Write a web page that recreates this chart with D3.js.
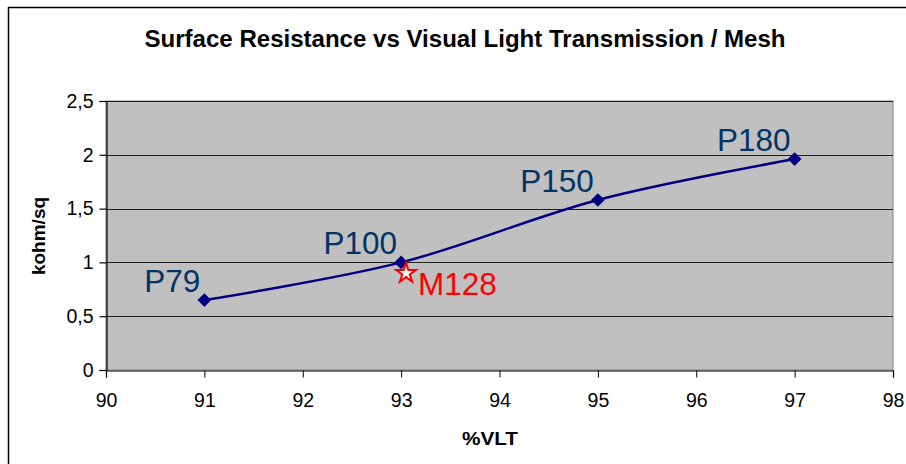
<!DOCTYPE html>
<html><head><meta charset="utf-8">
<script src="https://cdn.jsdelivr.net/npm/d3@7"></script>
<style>body{margin:0;background:#fff}svg{display:block}</style>
</head><body>
<svg id="c" width="906" height="464"></svg>
<script>
const meshNames = ["P79", "P100", "P150", "P180"];
const vltValues = [91, 93, 95, 97];
const resistanceValues = [0.65, 1.0, 1.58, 1.96];
const markName = "M128";
const markVlt = 93.05;
const markResistance = 0.9;
const xTicks = [90, 91, 92, 93, 94, 95, 96, 97, 98];
const yTicks = [0, 0.5, 1, 1.5, 2, 2.5];

const svg = d3.select("#c");
const W = 906, H = 464;
const m = {l: 106, r: 893, t: 101, b: 370};
const x = d3.scaleLinear().domain([90, 98]).range([m.l, m.r]);
const y = d3.scaleLinear().domain([0, 2.5]).range([m.b, m.t]);
const font = "'Liberation Sans', Arial, sans-serif";

svg.append("rect").attr("x", 8.5).attr("y", 7.5).attr("width", W).attr("height", H)
  .attr("fill", "#fff").attr("stroke", "#000").attr("stroke-width", 1.5);

svg.append("text").attr("x", 465).attr("y", 47).attr("text-anchor", "middle")
  .attr("font-family", font).attr("font-weight", "bold").attr("font-size", 23)
  .attr("textLength", 641).attr("lengthAdjust", "spacingAndGlyphs")
  .text("Surface Resistance vs Visual Light Transmission / Mesh");

svg.append("rect").attr("x", m.l).attr("y", m.t).attr("width", m.r - m.l).attr("height", m.b - m.t)
  .attr("fill", "#c0c0c0").attr("stroke", "#808080").attr("stroke-width", 1);

svg.append("g").selectAll("line").data(yTicks.filter(d => d > 0)).join("line")
  .attr("x1", m.l).attr("x2", m.r)
  .attr("y1", d => Math.round(y(d)) + 0.5).attr("y2", d => Math.round(y(d)) + 0.5)
  .attr("stroke", "#202020").attr("stroke-width", 1);

const yAxis = svg.append("g").attr("transform", `translate(${m.l + 0.5},0)`)
  .call(d3.axisLeft(y).tickValues(yTicks).tickSize(7).tickPadding(6)
    .tickFormat(d => String(d).replace(".", ",")));
const xAxis = svg.append("g").attr("transform", `translate(0,${m.b + 0.5})`)
  .call(d3.axisBottom(x).tickValues(xTicks).tickSize(7).tickPadding(16));
[yAxis, xAxis].forEach(a => {
  a.select(".domain").attr("stroke", "#000").attr("stroke-width", 1.2);
  a.selectAll(".tick line").attr("stroke", "#000");
  a.selectAll("text").attr("font-family", font).attr("font-size", 19.5).attr("fill", "#000");
});
yAxis.selectAll(".tick line").attr("stroke-width", 1.2);

svg.append("text").attr("x", 490).attr("y", 445).attr("text-anchor", "middle")
  .attr("font-family", font).attr("font-weight", "bold").attr("font-size", 19)
  .attr("textLength", 56).attr("lengthAdjust", "spacingAndGlyphs").text("%VLT");

svg.append("text").attr("transform", "translate(45,236) rotate(-90)").attr("text-anchor", "middle")
  .attr("font-family", font).attr("font-weight", "bold").attr("font-size", 19)
  .text("kohm/sq");

const pts = vltValues.map((v, i) => ({v, r: resistanceValues[i], n: meshNames[i]}));
const line = d3.line().x(d => x(d.v)).y(d => y(d.r)).curve(d3.curveCardinal.tension(0));
svg.append("path").attr("d", line(pts)).attr("fill", "none")
  .attr("stroke", "#000080").attr("stroke-width", 2.5);

svg.append("g").selectAll("path").data(pts).join("path")
  .attr("d", d3.symbol(d3.symbolDiamond2, 120)())
  .attr("transform", d => `translate(${x(d.v)},${y(d.r)})`)
  .attr("fill", "#000080");

svg.append("g").selectAll("text").data(pts).join("text")
  .attr("x", d => x(d.v) - 4).attr("y", d => y(d.r) - 8).attr("text-anchor", "end")
  .attr("font-family", font).attr("font-size", 31.5).attr("fill", "#003366")
  .text(d => d.n);

svg.append("path").attr("d", d3.symbol(d3.symbolStar, 120)())
  .attr("transform", `translate(${x(markVlt)},${y(markResistance)})`)
  .attr("fill", "#fff").attr("stroke", "#ff0000").attr("stroke-width", 2);
svg.append("text").attr("x", x(markVlt) + 12).attr("y", y(markResistance) + 22)
  .attr("font-family", font).attr("font-size", 31.5).attr("fill", "#ff0000").text(markName);
</script>
</body></html>
